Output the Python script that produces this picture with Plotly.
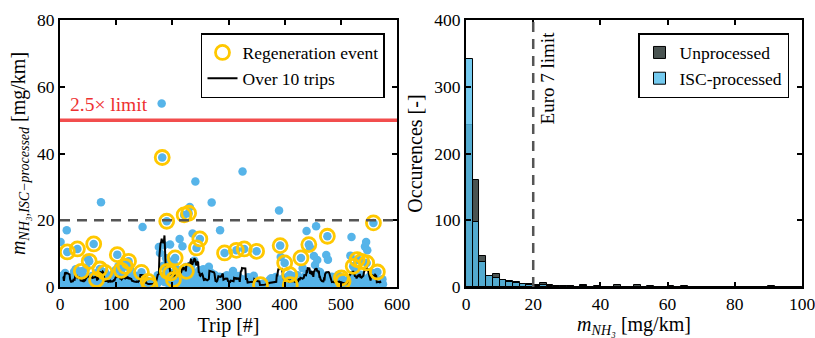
import plotly.graph_objects as go
import pandas as pd

# ---------------- data ----------------
# ISC-processed NH3 emission per trip [mg/km], trips 0..575 (rows of 10 trips)
nh3_isc = [
    2.1, 13.5, 1.2, 0.8, 3.4, 1.5, 0.6, 2.7, 1.1, 4.2,
    0.9, 1.8, 17.0, 10.5, 1.2, 0.5, 2.3, 1.4, 0.7, 1.9,
    1.6, 0.8, 2.9, 1.3, 0.4, 4.6, 1.1, 2.2, 5.3, 1.5,
    1.2, 11.4, 0.7, 2.4, 1.8, 0.5, 3.1, 1.0, 4.7, 0.9,
    0.6, 1.9, 3.5, 1.1, 0.8, 2.6, 1.4, 5.8, 0.5, 2.0,
    8.4, 1.3, 7.7, 0.9, 2.2, 1.6, 0.4, 3.3, 1.0, 1.8,
    12.9, 0.8, 2.5, 1.4, 4.1, 2.2, 0.7, 1.9, 3.6, 1.2,
    1.1, 5.4, 0.9, 25.4, 1.6, 2.8, 0.5, 1.3, 3.0, 0.8,
    4.4, 1.0, 0.6, 2.1, 1.5, 3.2, 0.7, 1.8, 1.2, 2.4,
    0.9, 2.6, 1.4, 0.5, 3.8, 1.2, 2.0, 0.7, 1.6, 5.1,
    1.5, 2.3, 9.7, 0.8, 6.2, 1.1, 2.9, 0.6, 1.7, 5.0,
    1.3, 0.7, 2.4, 6.6, 1.0, 3.1, 6.2, 0.9, 1.8, 2.2,
    0.8, 1.9, 7.7, 1.2, 0.5, 5.4, 2.3, 1.0, 3.2, 0.7,
    1.4, 0.6, 2.7, 1.1, 0.9, 3.4, 1.6, 0.4, 2.1, 1.3,
    0.9, 2.2, 1.5, 0.7, 3.6, 4.4, 1.2, 18.0, 0.8, 2.5,
    1.1, 0.6, 2.0, 0.9, 1.4, 0.5, 1.0, 1.7, 0.8, 0.6,
    0.4, 1.2, 0.7, 0.9, 1.5, 0.5, 1.1, 0.8, 1.9, 0.6,
    1.3, 0.8, 2.4, 1.0, 3.5, 1.7, 12.0, 2.6, 10.2, 1.9,
    3.1, 55.0, 38.8, 2.2, 6.4, 12.5, 1.5, 5.9, 3.8, 8.6,
    19.7, 4.7, 1.3, 2.8, 0.9, 7.6, 12.7, 4.2, 1.6, 3.0,
    1.0, 3.4, 2.2, 6.8, 0.7, 8.7, 1.9, 5.5, 0.9, 2.6,
    1.2, 4.9, 0.8, 14.4, 2.1, 3.3, 1.5, 0.6, 12.2, 2.7,
    2.4, 21.6, 1.1, 3.6, 6.0, 4.7, 0.9, 2.3, 1.7, 22.1,
    1.5, 24.0, 3.1, 0.8, 6.5, 2.0, 16.0, 4.4, 1.2, 7.9,
    2.8, 31.6, 1.4, 11.7, 3.9, 0.9, 2.2, 1.1, 5.0, 14.4,
    1.8, 0.6, 3.4, 1.2, 2.5, 5.3, 4.1, 1.5, 0.7, 2.0,
    0.9, 2.2, 1.3, 3.0, 0.5, 6.1, 1.7, 2.8, 1.0, 4.3,
    25.3, 1.4, 0.8, 2.6, 1.1, 3.7, 0.6, 1.9, 2.3, 0.9,
    1.6, 0.7, 2.4, 1.2, 3.1, 17.0, 0.9, 1.5, 2.0, 0.5,
    1.1, 2.8, 0.6, 10.2, 1.4, 0.9, 2.2, 3.5, 1.0, 1.7,
    0.8, 2.0, 1.3, 3.2, 0.6, 1.5, 2.4, 0.9, 4.8, 1.2,
    1.7, 0.5, 2.6, 1.0, 11.0, 1.4, 0.8, 3.3, 1.2, 2.1,
    0.9, 1.8, 0.6, 2.4, 1.1, 34.6, 1.3, 0.7, 11.4, 1.5,
    0.8, 2.2, 1.0, 0.5, 1.6, 2.9, 0.7, 1.3, 0.9, 2.0,
    1.5, 0.6, 2.7, 1.1, 0.8, 3.4, 1.2, 0.5, 1.9, 1.0,
    10.7, 0.4, 0.6, 0.3, 0.8, 0.5, 0.7, 0.7, 0.4, 0.9,
    0.5, 0.3, 0.8, 0.6, 1.1, 0.4, 0.7, 0.9, 0.5, 1.3,
    0.8, 1.5, 0.6, 2.1, 1.0, 0.7, 2.6, 1.2, 0.9, 1.8,
    1.1, 2.4, 0.7, 1.5, 3.0, 0.9, 1.8, 2.2, 1.3, 0.6,
    22.9, 1.2, 12.4, 9.0, 0.8, 2.0, 1.5, 0.6, 2.7, 1.1,
    7.2, 1.3, 0.8, 2.4, 1.0, 3.1, 0.6, 1.9, 1.2, 3.7,
    0.7, 1.5, 2.6, 0.9, 3.3, 1.1, 0.5, 2.0, 1.4, 2.8,
    1.0, 2.3, 0.7, 3.5, 1.6, 0.9, 2.8, 1.3, 0.6, 8.7,
    1.8, 0.8, 5.6, 1.2, 2.5, 0.6, 1.9, 3.4, 1.1, 16.8,
    2.2, 1.0, 4.3, 12.7, 1.5, 11.8, 0.9, 3.6, 1.3, 2.4,
    1.4, 3.0, 9.3, 0.8, 6.6, 1.2, 18.2, 1.9, 8.1, 4.7,
    1.1, 2.7, 0.6, 4.5, 1.3, 2.0, 0.8, 3.2, 1.5, 0.9,
    0.7, 1.8, 1.2, 3.4, 9.6, 0.9, 15.2, 8.2, 2.1, 1.4,
    1.0, 2.5, 0.6, 1.7, 3.1, 0.8, 1.3, 2.2, 0.5, 1.9,
    0.9, 1.4, 2.8, 0.6, 1.1, 3.6, 0.7, 1.5, 2.0, 0.8,
    0.6, 2.7, 0.9, 0.4, 1.7, 1.2, 0.5, 1.8, 0.7, 1.0,
    0.8, 1.3, 0.5, 2.1, 1.0, 0.7, 1.6, 9.4, 2.4, 15.0,
    1.9, 3.3, 6.2, 1.1, 0.7, 2.8, 4.9, 1.4, 2.2, 8.2,
    1.2, 2.6, 0.8, 8.0, 1.5, 3.7, 0.9, 7.7, 2.0, 1.3,
    1.6, 0.7, 2.4, 12.1, 1.2, 13.5, 7.2, 11.0, 0.9, 2.8,
    1.0, 3.1, 0.6, 1.8, 2.5, 0.9, 1.4, 4.2, 19.2, 1.2,
    0.8, 1.5, 0.5, 2.2, 1.0, 4.5, 0.7, 1.3, 0.6, 1.9,
    1.1, 0.6, 1.7, 0.9, 2.3, 0.8,
]

# trips with a regeneration event
regen_trips = [13, 31, 38, 52, 60, 65, 71, 80, 102, 109, 116, 122, 145, 157,
               160, 182, 190, 191, 197, 202, 205, 221, 225, 229, 243, 249,
               293, 314, 328, 350, 357, 392, 400, 409, 410, 429, 443, 476,
               501, 504, 522, 529, 537, 546, 558, 565]

window_trips = 10
limit_x2_5 = 50
euro7_limit = 20

# histogram, bins of 2 mg/km from 0 to 100
bin_left = list(range(0, 100, 2))
unproc_counts = [243, 160, 47, 17, 19, 11, 9, 7, 5, 5,
                 3, 6, 3, 1, 1, 2, 0, 3, 0, 0,
                 0, 0, 3, 0, 0, 3, 0, 0, 0, 0,
                 1, 0, 1, 0, 0, 0, 0, 0, 0, 0,
                 0, 0, 0, 0, 0, 1, 0, 0, 0, 0]
isc_counts = [341, 97, 38, 16, 14, 10, 8, 6, 4, 3,
              1, 3, 2, 1, 1, 1, 0, 1, 0, 1,
              0, 0, 0, 0, 0, 0, 0, 1, 0, 0,
              0, 0, 0, 0, 0, 0, 0, 0, 0, 0,
              0, 0, 0, 0, 0, 0, 0, 0, 0, 0]

# ---------------- figure ----------------
FONT = "Liberation Serif"
trips = list(range(len(nh3_isc)))
regen_vals = [nh3_isc[t] for t in regen_trips]
moving = pd.Series(nh3_isc).rolling(window_trips, center=True).mean()
bin_centers = [b + 1 for b in bin_left]

fig = go.Figure()

fig.add_trace(go.Scatter(
    x=trips, y=nh3_isc, mode="markers",
    marker=dict(size=8.5, color="#56B4E9"),
    showlegend=False, xaxis="x", yaxis="y"))

fig.add_trace(go.Scatter(
    x=trips, y=moving, mode="lines",
    line=dict(color="black", width=2),
    name="Over 10 trips", legend="legend", legendrank=2,
    xaxis="x", yaxis="y"))

fig.add_trace(go.Scatter(
    x=regen_trips, y=regen_vals, mode="markers",
    marker=dict(size=14, color="rgba(0,0,0,0)", symbol="circle",
                line=dict(color="#FFC800", width=2.8)),
    name="Regeneration event", legend="legend", legendrank=1,
    xaxis="x", yaxis="y"))

fig.add_trace(go.Bar(
    x=bin_centers, y=unproc_counts, width=2,
    marker=dict(color="#4a5452", line=dict(color="black", width=1)),
    name="Unprocessed", legend="legend2", xaxis="x2", yaxis="y2"))

fig.add_trace(go.Bar(
    x=bin_centers, y=isc_counts, width=2,
    marker=dict(color="rgba(86,190,235,0.82)", line=dict(color="black", width=1)),
    name="ISC-processed", legend="legend2", xaxis="x2", yaxis="y2"))

axis_common = dict(
    showgrid=False, zeroline=False, showline=True, linecolor="black",
    linewidth=2, mirror="ticks", ticks="inside", ticklen=5, tickwidth=1.5,
    tickcolor="black", tickfont=dict(family=FONT, size=17.5, color="black"),
    automargin=False, ticklabeloverflow="allow",
)
TFONT = dict(family=FONT, size=20, color="black")

fig.update_layout(
    width=815, height=338,
    margin=dict(l=60, r=13, t=20, b=51),
    paper_bgcolor="white", plot_bgcolor="white",
    barmode="overlay", bargap=0,
    font=dict(family=FONT, size=17, color="black"),
    xaxis=dict(domain=[0, 0.4542], range=[0, 600], dtick=100,
               title=dict(text="Trip [#]", font=TFONT, standoff=2),
               **axis_common),
    yaxis=dict(domain=[0, 1], range=[0, 80], dtick=20,
               title=dict(text="<i>m</i><sub><i>NH₃,ISC−processed</i></sub> [mg/km]",
                          font=TFONT, standoff=6),
               **axis_common),
    xaxis2=dict(domain=[0.5472, 1], range=[0, 100], dtick=20, anchor="y2",
                title=dict(text="<i>m</i><sub><i>NH₃</i></sub> [mg/km]",
                           font=TFONT, standoff=2),
                **axis_common),
    yaxis2=dict(domain=[0, 1], range=[0, 400], dtick=100, anchor="x2",
                title=dict(text="Occurences [-]", font=TFONT, standoff=6),
                **axis_common),
    legend=dict(x=0.438, xanchor="right", y=0.951, yanchor="top",
                bgcolor="white", bordercolor="black", borderwidth=1.5,
                font=dict(family=FONT, size=17.5), tracegroupgap=0,
                itemwidth=30),
    legend2=dict(x=0.9825, xanchor="right", y=0.951, yanchor="top",
                 bgcolor="white", bordercolor="black", borderwidth=1.5,
                 font=dict(family=FONT, size=17.5), traceorder="normal",
                 itemwidth=30),
)

# limit lines
fig.add_shape(type="line", xref="x", yref="y", x0=0, x1=600,
              y0=limit_x2_5, y1=limit_x2_5,
              line=dict(color="#F24D4D", width=3.5))
fig.add_shape(type="line", xref="x", yref="y", x0=0, x1=600,
              y0=euro7_limit, y1=euro7_limit,
              line=dict(color="#555555", width=2.5, dash="10px,7px"))
fig.add_shape(type="line", xref="x2", yref="y2", x0=euro7_limit, x1=euro7_limit,
              y0=0, y1=400,
              line=dict(color="#555555", width=2.5, dash="10px,7px"))

fig.add_annotation(x=14, y=54.8, xref="x", yref="y", text="2.5× limit",
                   showarrow=False, xanchor="left", yanchor="middle",
                   font=dict(family=FONT, size=19.5, color="#EE3030"))
fig.add_annotation(x=24.2, y=313, xref="x2", yref="y2", text="Euro 7 limit",
                   showarrow=False, textangle=-90, xanchor="center",
                   yanchor="middle", font=dict(family=FONT, size=19, color="black"))

fig.write_html("out.html",
               config={"displayModeBar": False},
               post_script="document.body.style.margin='0px';"
                           "document.body.style.overflow='hidden';")
